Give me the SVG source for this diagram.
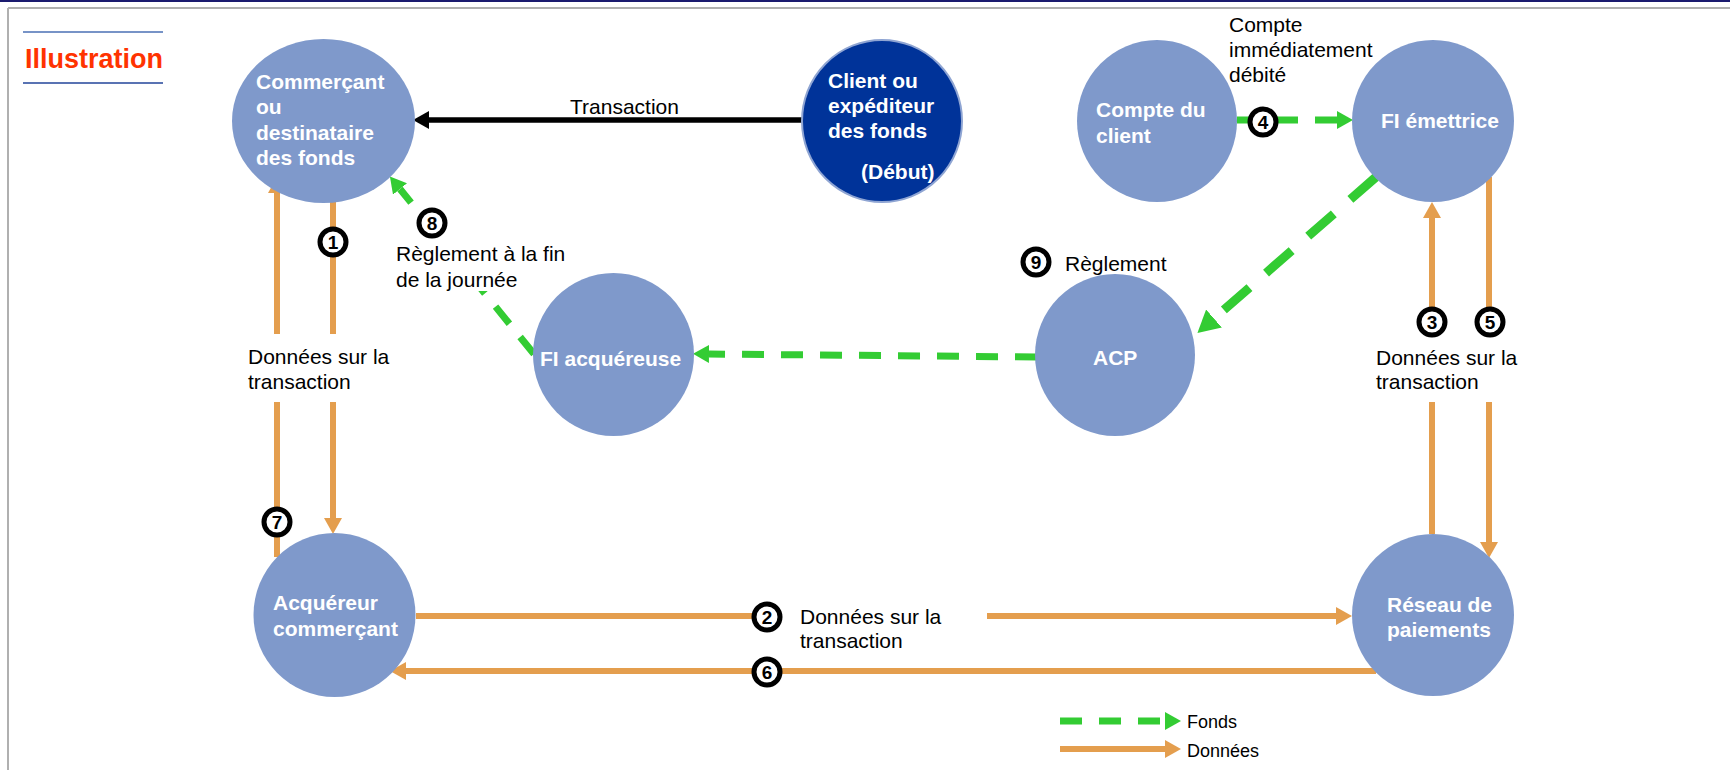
<svg xmlns="http://www.w3.org/2000/svg" width="1730" height="770" viewBox="0 0 1730 770">
<style>
.node{fill:#7F99CB}
.dark{fill:#003399;stroke:#8FA5D3;stroke-width:2}
.nt{font-family:"Liberation Sans",Arial,sans-serif;font-weight:bold;font-size:21px;fill:#ffffff}
.lbl{font-family:"Liberation Sans",Arial,sans-serif;font-size:21px;fill:#000000}
.leg{font-family:"Liberation Sans",Arial,sans-serif;font-size:18px;fill:#000000}
.data{stroke:#E49E4E;stroke-width:6;fill:none}
.fund{stroke:#33CC33;stroke-width:7;fill:none;stroke-dasharray:22 17}
.fundL{stroke:#33CC33;stroke-width:9;fill:none;stroke-dasharray:34 22}
.tx{stroke:#000000;stroke-width:5.5;fill:none}
.num circle{fill:#ffffff;stroke:#000000;stroke-width:5}
.num text{font-family:"Liberation Sans",Arial,sans-serif;font-weight:bold;font-size:19px;fill:#000000;text-anchor:middle}
</style>
<defs>
<marker id="hO" markerUnits="userSpaceOnUse" viewBox="0 0 16 18" markerWidth="16" markerHeight="18" refX="0" refY="9" orient="auto"><path d="M0,0 L16,9 L0,18 z" fill="#E49E4E"/></marker>
<marker id="hG" markerUnits="userSpaceOnUse" viewBox="0 0 16 18" markerWidth="16" markerHeight="18" refX="0" refY="9" orient="auto"><path d="M0,0 L16,9 L0,18 z" fill="#33CC33"/></marker>
<marker id="hGL" markerUnits="userSpaceOnUse" viewBox="0 0 22 24" markerWidth="22" markerHeight="24" refX="0" refY="12" orient="auto"><path d="M0,0 L22,12 L0,24 z" fill="#33CC33"/></marker>
<marker id="hK" markerUnits="userSpaceOnUse" viewBox="0 0 16 18" markerWidth="16" markerHeight="18" refX="0" refY="9" orient="auto"><path d="M0,0 L16,9 L0,18 z" fill="#000000"/></marker>
</defs>
<rect x="0" y="0" width="1730" height="770" fill="#ffffff"/>
<g id="frame">
<line x1="0" y1="1" x2="1730" y2="1" stroke="#1B1B6F" stroke-width="2"/>
<line x1="8" y1="8" x2="1730" y2="8" stroke="#B0B0B0" stroke-width="2"/>
<line x1="8" y1="8" x2="8" y2="770" stroke="#B0B0B0" stroke-width="2"/>
</g>
<g id="heading">
<line x1="23" y1="32" x2="163" y2="32" stroke="#4A6FB5" stroke-width="1.5"/>
<text x="25" y="68" font-family="Liberation Sans, Arial, sans-serif" font-weight="bold" font-size="27" fill="#FF3300">Illustration</text>
<line x1="23" y1="83" x2="163" y2="83" stroke="#22449A" stroke-width="1.5"/>
</g>
<g id="connectors">
<line class="tx" x1="802" y1="120" x2="429" y2="120" marker-end="url(#hK)"/>
<path class="data" d="M333,201 V334"/>
<path class="data" d="M333,402 V518" marker-end="url(#hO)"/>
<path class="data" d="M277,557 V402"/>
<path class="data" d="M277,334 V193" marker-end="url(#hO)"/>
<path class="data" d="M1432,534 V402"/>
<path class="data" d="M1432,322 V218" marker-end="url(#hO)"/>
<path class="data" d="M1489,177 V322"/>
<path class="data" d="M1489,402 V542" marker-end="url(#hO)"/>
<path class="data" d="M416,616 H767"/>
<path class="data" d="M987,616 H1336" marker-end="url(#hO)"/>
<path class="data" d="M1376,671 H406" marker-end="url(#hO)"/>
<path class="fund" d="M1237,120 H1337" marker-end="url(#hG)"/>
<path class="fund" d="M1037,357 L709,354" marker-end="url(#hG)"/>
<path class="fundL" d="M1376,177 L1214,318.5" marker-end="url(#hGL)"/>
<path class="fund" d="M534,354 L400,189" marker-end="url(#hG)"/>
<rect x="400" y="238" width="100" height="53" fill="#ffffff"/>
</g>
<g id="node-commercant">
<ellipse class="node" cx="323.5" cy="121" rx="91.5" ry="82"/>
<text class="nt" x="256" y="89">Commerçant</text>
<text class="nt" x="256" y="114">ou</text>
<text class="nt" x="256" y="140">destinataire</text>
<text class="nt" x="256" y="165">des fonds</text>
</g>
<g id="node-client">
<ellipse class="dark" cx="882" cy="121" rx="80" ry="81"/>
<text class="nt" x="828" y="88">Client ou</text>
<text class="nt" x="828" y="113">expéditeur</text>
<text class="nt" x="828" y="138">des fonds</text>
<text class="nt" x="861" y="179" font-size="17">(Début)</text>
</g>
<g id="node-compte">
<ellipse class="node" cx="1157" cy="121" rx="80" ry="81"/>
<text class="nt" x="1096" y="117">Compte du</text>
<text class="nt" x="1096" y="143">client</text>
</g>
<g id="node-fi-emettrice">
<ellipse class="node" cx="1433" cy="121" rx="81" ry="81"/>
<text class="nt" x="1381" y="128">FI émettrice</text>
</g>
<g id="node-fi-acquereuse">
<ellipse class="node" cx="613.5" cy="354.5" rx="80.5" ry="81.5"/>
<text class="nt" x="540" y="366">FI acquéreuse</text>
</g>
<g id="node-acp">
<ellipse class="node" cx="1115" cy="355" rx="80" ry="81"/>
<text class="nt" x="1093" y="365">ACP</text>
</g>
<g id="node-acquereur">
<ellipse class="node" cx="334.5" cy="615" rx="81" ry="82"/>
<text class="nt" x="273" y="610">Acquéreur</text>
<text class="nt" x="273" y="636">commerçant</text>
</g>
<g id="node-reseau">
<ellipse class="node" cx="1433" cy="615" rx="81" ry="81"/>
<text class="nt" x="1387" y="612">Réseau de</text>
<text class="nt" x="1387" y="637">paiements</text>
</g>
<g id="labels">
<text class="lbl" x="570" y="114">Transaction</text>
<text class="lbl" x="248" y="364">Données sur la</text>
<text class="lbl" x="248" y="389">transaction</text>
<text class="lbl" x="396" y="261">Règlement à la fin</text>
<text class="lbl" x="396" y="287">de la journée</text>
<text class="lbl" x="1065" y="271">Règlement</text>
<text class="lbl" x="1229" y="32">Compte</text>
<text class="lbl" x="1229" y="57">immédiatement</text>
<text class="lbl" x="1229" y="82">débité</text>
<text class="lbl" x="1376" y="365">Données sur la</text>
<text class="lbl" x="1376" y="389">transaction</text>
<text class="lbl" x="800" y="624">Données sur la</text>
<text class="lbl" x="800" y="648">transaction</text>
</g>
<g id="numbers" class="num">
<g id="n1"><circle cx="333" cy="242" r="13"/><text x="333" y="249">1</text></g>
<g id="n2"><circle cx="767" cy="617" r="13"/><text x="767" y="624">2</text></g>
<g id="n3"><circle cx="1432" cy="322" r="13"/><text x="1432" y="329">3</text></g>
<g id="n4"><circle cx="1263" cy="122" r="13"/><text x="1263" y="129">4</text></g>
<g id="n5"><circle cx="1490" cy="322" r="13"/><text x="1490" y="329">5</text></g>
<g id="n6"><circle cx="767" cy="672" r="13"/><text x="767" y="679">6</text></g>
<g id="n7"><circle cx="277" cy="522" r="13"/><text x="277" y="529">7</text></g>
<g id="n8"><circle cx="432" cy="223" r="13"/><text x="432" y="230">8</text></g>
<g id="n9"><circle cx="1036" cy="262" r="13"/><text x="1036" y="269">9</text></g>
</g>
<g id="legend">
<path class="fund" d="M1060,721 H1165" marker-end="url(#hG)"/>
<text class="leg" x="1187" y="728">Fonds</text>
<path class="data" d="M1060,749 H1165" marker-end="url(#hO)"/>
<text class="leg" x="1187" y="757">Données</text>
</g>
</svg>
